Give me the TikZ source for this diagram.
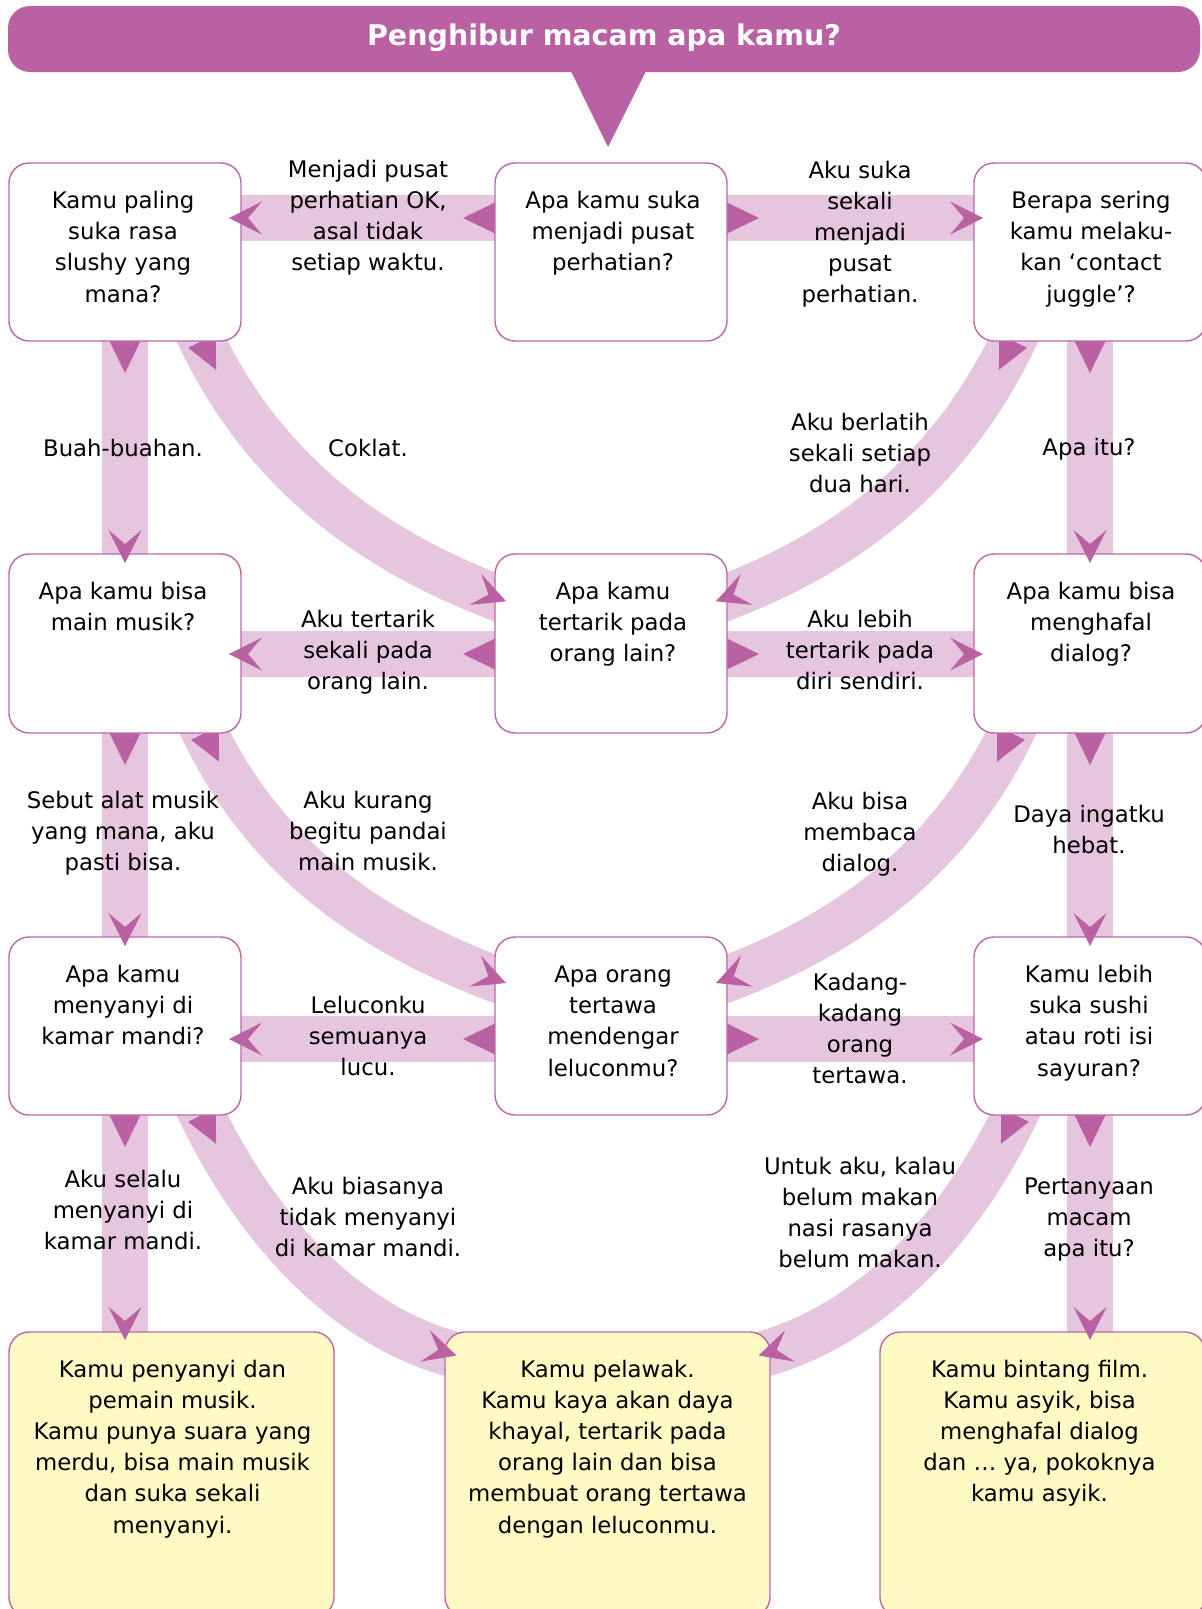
\documentclass[tikz,border=0pt]{standalone}
\usepackage{fontspec}
\setmainfont{DejaVu Sans}
\usetikzlibrary{calc}
\pgfdeclarelayer{bg}
\pgfsetlayers{bg,main}
\definecolor{headc}{HTML}{B961A2}
\definecolor{bandc}{HTML}{E6C5DE}
\definecolor{yellowc}{HTML}{FFF9C4}
\definecolor{linec}{HTML}{BC67A8}
\newcommand\bodyfont{\fontsize{22.8}{31.2}\selectfont}
\newcommand\titlefont{\fontsize{28.5}{34}\selectfont\bfseries}
\begin{document}
\begin{tikzpicture}[x=1pt,y=-1pt,
  band/.style={draw=bandc, line width=46pt},
  qbox/.style={draw=linec, line width=1.4pt, fill=white, rounded corners=20pt, minimum width=232pt, inner sep=0pt, outer sep=0pt, anchor=north west},
  abox/.style={qbox, fill=yellowc, minimum width=325pt, minimum height=285pt},
  txt/.style={align=center, inner sep=0pt, outer sep=0pt, anchor=north, font=\bodyfont},
  starthead/.pic={\fill[headc] (0,-15.5) -- (32,0) -- (0,15.5) -- cycle;},
  endhead/.pic={\fill[headc] (0,0) -- (-33,16.5) -- (-19,0) -- (-33,-16.5) -- cycle;},
]
\begin{pgfonlayer}{bg}
\fill[white] (0,0) rectangle (1202,1609);
\end{pgfonlayer}
\useasboundingbox (0,0) rectangle (1202,1609);

% title banner
\node[fill=headc, rounded corners=22pt, minimum width=1192pt, minimum height=66pt, text=white, font=\titlefont, text height=19pt, text depth=6pt, inner sep=0pt] (title) at (604,39) {Penghibur macam apa kamu?};

% boxes
\node[qbox, minimum height=178pt] (b11) at (9,163) {};
\node[qbox, minimum height=178pt] (b12) at (495,163) {};
\node[qbox, minimum height=178pt] (b13) at (974,163) {};
\node[qbox, minimum height=179pt] (b21) at (9,554) {};
\node[qbox, minimum height=179pt] (b22) at (495,554) {};
\node[qbox, minimum height=179pt] (b23) at (974,554) {};
\node[qbox, minimum height=178pt] (b31) at (9,937) {};
\node[qbox, minimum height=178pt] (b32) at (495,937) {};
\node[qbox, minimum height=178pt] (b33) at (974,937) {};
\node[abox] (y1) at (9,1332) {};
\node[abox] (y2) at (445,1332) {};
\node[abox] (y3) at (880,1332) {};

\fill[headc] ($(title.south)+(-34,-3)$) -- ($(title.south)+(43,-3)$) -- ($(b12.north)+(-3,-16)$) -- cycle;

\coordinate (h1) at (0,218);
\coordinate (h2) at (0,654);
\coordinate (h3) at (0,1039);

\begin{pgfonlayer}{bg}
% horizontal bands
\draw[band] (b12.west|-h1) -- (b11.east|-h1);
\draw[band] (b12.east|-h1) -- (b13.west|-h1);
\draw[band] (b22.west|-h2) -- (b21.east|-h2);
\draw[band] (b22.east|-h2) -- (b23.west|-h2);
\draw[band] (b32.west|-h3) -- (b31.east|-h3);
\draw[band] (b32.east|-h3) -- (b33.west|-h3);
% vertical bands
\draw[band] (b11.south) -- (b21.north);
\draw[band] (b21.south) -- (b31.north);
\draw[band] (b31.south) -- (b31.south|-y1.north);
\draw[band] (b13.south) -- (b23.north);
\draw[band] (b23.south) -- (b33.north);
\draw[band] (b33.south) -- (b33.south|-y3.north);
% curved bands
\draw[band] ($(b11.south)+(66,-22.5)$) -- ($(b11.south)+(77,0)$) .. controls (276,494) and (402,561) .. ($(b22.west)+(0,-46.5)$) -- ($(b22.west)+(23.4,-37.5)$);
\draw[band] ($(b21.south)+(69,-22.5)$) -- ($(b21.south)+(80,0)$) .. controls (277,881) and (402,943) .. ($(b32.west)+(0,-47)$) -- ($(b32.west)+(23.4,-38)$);
\draw[band] ($(b31.south)+(66,-22.5)$) -- ($(b31.south)+(77,0)$) .. controls (268,1250) and (359,1326) .. ($(y2.north west)+(0,20)$) -- ($(y2.north west)+(23.9,27.3)$);
\draw[band] ($(b13.south)+(-66,-22.5)$) -- ($(b13.south)+(-77,0)$) .. controls (939,494) and (820,561) .. ($(b22.east)+(0,-46.5)$) -- ($(b22.east)+(-23.4,-37.5)$);
\draw[band] ($(b23.south)+(-68,-22.5)$) -- ($(b23.south)+(-79,0)$) .. controls (938,881) and (820,943) .. ($(b32.east)+(0,-47)$) -- ($(b32.east)+(-23.4,-38)$);
\draw[band] ($(b33.south)+(-64,-22.5)$) -- ($(b33.south)+(-75,0)$) .. controls (949,1250) and (856,1326) .. ($(y2.north east)+(0,20)$) -- ($(y2.north east)+(-23.9,27.3)$);
% start heads
\pic[rotate=180] at (b12.west|-h1) {starthead};
\pic at (b12.east|-h1) {starthead};
\pic[rotate=180] at (b22.west|-h2) {starthead};
\pic at (b22.east|-h2) {starthead};
\pic[rotate=180] at (b32.west|-h3) {starthead};
\pic at (b32.east|-h3) {starthead};
\pic[rotate=-90] at (b11.south) {starthead};
\pic[rotate=-90] at (b21.south) {starthead};
\pic[rotate=-90] at (b31.south) {starthead};
\pic[rotate=-90] at (b13.south) {starthead};
\pic[rotate=-90] at (b23.south) {starthead};
\pic[rotate=-90] at (b33.south) {starthead};
\pic[rotate=-64] at ($(b11.south)+(77,0)$) {starthead};
\pic[rotate=-64] at ($(b21.south)+(80,0)$) {starthead};
\pic[rotate=-64] at ($(b31.south)+(77,0)$) {starthead};
\pic[rotate=-116] at ($(b13.south)+(-77,0)$) {starthead};
\pic[rotate=-116] at ($(b23.south)+(-79,0)$) {starthead};
\pic[rotate=-116] at ($(b33.south)+(-75,0)$) {starthead};
\end{pgfonlayer}

% end heads
\pic[rotate=180] at ($(b11.east|-h1)+(-12,0)$) {endhead};
\pic at ($(b13.west|-h1)+(9,0)$) {endhead};
\pic[rotate=180] at ($(b21.east|-h2)+(-12,0)$) {endhead};
\pic at ($(b23.west|-h2)+(9,0)$) {endhead};
\pic[rotate=180] at ($(b31.east|-h3)+(-12,0)$) {endhead};
\pic at ($(b33.west|-h3)+(9,0)$) {endhead};
\pic[rotate=-90] at ($(b21.north)+(0,9)$) {endhead};
\pic[rotate=-90] at ($(b31.north)+(0,9)$) {endhead};
\pic[rotate=-90] at ($(b31.south|-y1.north)+(0,8)$) {endhead};
\pic[rotate=-90] at ($(b23.north)+(0,9)$) {endhead};
\pic[rotate=-90] at ($(b33.north)+(0,9)$) {endhead};
\pic[rotate=-90] at ($(b33.south|-y3.north)+(0,8)$) {endhead};
\pic[rotate=-21] at ($(b22.west)+(11.2,-42.2)$) {endhead};
\pic[rotate=-21] at ($(b32.west)+(11,-43)$) {endhead};
\pic[rotate=-17] at ($(y2.north west)+(11.5,23.5)$) {endhead};
\pic[rotate=-159] at ($(b22.east)+(-11.2,-42.2)$) {endhead};
\pic[rotate=-159] at ($(b32.east)+(-11,-43)$) {endhead};
\pic[rotate=-163] at ($(y2.north east)+(-11.5,23.5)$) {endhead};

% box texts
\node[txt] (t11) at ($(b11.north)+(-2,23.7)$) {\strut Kamu paling\\suka rasa\\slushy yang\\mana?};
\node[txt] (t12) at ($(b12.north)+(2,23.7)$) {\strut Apa kamu suka\\menjadi pusat\\perhatian?};
\node[txt] (t13) at ($(b13.north)+(1,23.7)$) {\strut Berapa sering\\kamu melaku-\\kan ‘contact\\juggle’?};
\node[txt] (t21) at ($(b21.north)+(-2,23.7)$) {\strut Apa kamu bisa\\main musik?};
\node[txt] (t22) at ($(b22.north)+(2,23.7)$) {\strut Apa kamu\\tertarik pada\\orang lain?};
\node[txt] (t23) at ($(b23.north)+(1,23.7)$) {\strut Apa kamu bisa\\menghafal\\dialog?};
\node[txt] (t31) at ($(b31.north)+(-2,23.7)$) {\strut Apa kamu\\menyanyi di\\kamar mandi?};
\node[txt] (t32) at ($(b32.north)+(2,23.7)$) {\strut Apa orang\\tertawa\\mendengar\\leluconmu?};
\node[txt] (t33) at ($(b33.north)+(-1,23.7)$) {\strut Kamu lebih\\suka sushi\\atau roti isi\\sayuran?};
\node[txt] (ty1) at ($(y1.north)+(1,23.2)$) {\strut Kamu penyanyi dan\\pemain musik.\\Kamu punya suara yang\\merdu, bisa main musik\\dan suka sekali\\menyanyi.};
\node[txt] (ty2) at ($(y2.north)+(0,23.2)$) {\strut Kamu pelawak.\\Kamu kaya akan daya\\khayal, tertarik pada\\orang lain dan bisa\\membuat orang tertawa\\dengan leluconmu.};
\node[txt] (ty3) at ($(y3.north)+(-3,23.2)$) {\strut Kamu bintang film.\\Kamu asyik, bisa\\menghafal dialog\\dan … ya, pokoknya\\kamu asyik.};

% connector labels
\node[txt] (l1) at (368,155.2) {\strut Menjadi pusat\\perhatian OK,\\asal tidak\\setiap waktu.};
\node[txt] (r1) at (860,156.2) {\strut Aku suka\\sekali\\menjadi\\pusat\\perhatian.};
\node[txt] (v11) at (123,434.2) {\strut Buah-buahan.};
\node[txt] (c1) at (368,434.2) {\strut Coklat.};
\node[txt] (c2) at (860,408.2) {\strut Aku berlatih\\sekali setiap\\dua hari.};
\node[txt] (v13) at (1089,433.2) {\strut Apa itu?};
\node[txt] (l2) at (368,605.2) {\strut Aku tertarik\\sekali pada\\orang lain.};
\node[txt] (r2) at (860,605.2) {\strut Aku lebih\\tertarik pada\\diri sendiri.};
\node[txt] (v21) at (123,786.2) {\strut Sebut alat musik\\yang mana, aku\\pasti bisa.};
\node[txt] (c3) at (368,786.2) {\strut Aku kurang\\begitu pandai\\main musik.};
\node[txt] (c4) at (860,787.2) {\strut Aku bisa\\membaca\\dialog.};
\node[txt] (v23) at (1089,800.2) {\strut Daya ingatku\\hebat.};
\node[txt] (l3) at (368,991.2) {\strut Leluconku\\semuanya\\lucu.};
\node[txt] (r3) at (860,968.2) {\strut Kadang-\\kadang\\orang\\tertawa.};
\node[txt] (v31) at (123,1165.2) {\strut Aku selalu\\menyanyi di\\kamar mandi.};
\node[txt] (c5) at (368,1172.2) {\strut Aku biasanya\\tidak menyanyi\\di kamar mandi.};
\node[txt] (c6) at (860,1152.2) {\strut Untuk aku, kalau\\belum makan\\nasi rasanya\\belum makan.};
\node[txt] (v33) at (1089,1172.2) {\strut Pertanyaan\\macam\\apa itu?};
\end{tikzpicture}
\end{document}
